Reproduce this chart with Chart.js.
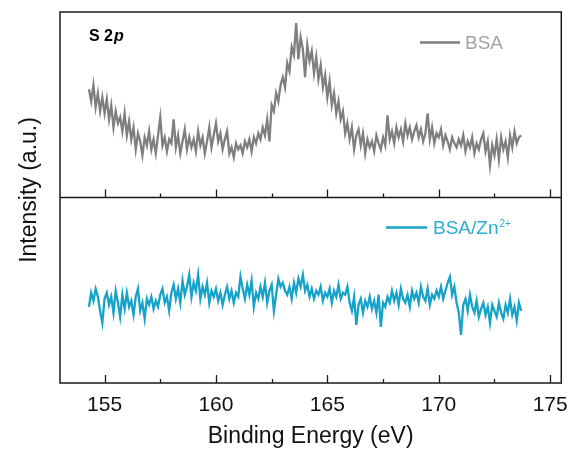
<!DOCTYPE html>
<html>
<head>
<meta charset="utf-8">
<script src="https://cdn.jsdelivr.net/npm/chart.js@4.4.1/dist/chart.umd.min.js"></script>
<style>
    html, body { margin: 0; padding: 0; background: #fff; }
</style>
</head>
<body>
<canvas id="xpsChart" width="578" height="452"></canvas>
<script>
// Datos (S 2p, intensidad en unidades arbitrarias)
const energiaInicio = 154.3;
const energiaPaso = 0.1;
const ticksX = [155, 160, 165, 170, 175];
const ticksMenores = [157.5, 162.5, 167.5, 172.5];

const intensidadBSA = [
    108, 96, 112, 90, 104, 86, 100,
    84, 98, 78, 92, 70, 86, 74, 80, 66, 84,
    62, 76, 58, 70, 48, 64, 56, 42, 60, 52,
    66, 48, 58, 44, 62, 80, 52, 60, 46, 58,
    54, 78, 50, 62, 44, 56, 68, 48, 60, 50,
    58, 46, 66, 52, 60, 44, 56, 70, 50, 62,
    74, 56, 64, 48, 58, 66, 44, 50, 40, 54,
    48, 52, 44, 56, 50, 58, 46, 60, 54, 64,
    58, 70, 62, 78, 56, 92, 86, 104, 96, 112,
    120, 110, 134, 126, 150, 142, 174, 138, 160, 148,
    120, 152, 136, 146, 124, 140, 118, 132, 110, 122,
    100, 116, 92, 104, 84, 96, 78, 86, 64, 74,
    58, 70, 48, 62, 68, 52, 64, 44, 58, 50,
    56, 46, 62, 54, 48, 60, 52, 82, 58, 66,
    54, 70, 60, 68, 56, 74, 62, 70, 58, 66,
    72, 60, 68, 56, 64, 84, 58, 70, 54, 64,
    60, 68, 52, 62, 56, 48, 60, 54, 50, 58,
    52, 62, 46, 56, 50, 60, 44, 54, 48, 58,
    64, 46, 56, 32, 52, 42, 58, 38, 60, 48,
    56, 40, 62, 50, 66, 54, 60, 62
];

const intensidadBSAZn = [
    76, 90, 82, 94, 86, 72, 60,
    84, 90, 78, 86, 70, 92, 80, 66, 88, 74,
    90, 76, 82, 68, 86, 94, 72, 80, 64, 84,
    78, 86, 74, 82, 76, 88, 94, 80, 86, 72,
    90, 98, 84, 94, 80, 102, 88, 96, 108, 86,
    100, 92, 108, 84, 96, 88, 100, 80, 92, 86,
    94, 82, 90, 78, 88, 96, 84, 92, 80, 90,
    86, 106, 94, 84, 98, 88, 102, 76, 90, 84,
    96, 86, 100, 80, 92, 98, 72, 88, 104, 96,
    100, 92, 88, 96, 84, 100, 90, 104, 96, 108,
    92, 98, 86, 94, 84, 92, 88, 96, 82, 90,
    86, 94, 80, 92, 86, 98, 84, 90, 88, 96,
    80, 72, 86, 58, 78, 84, 70, 82, 76, 86,
    74, 82, 70, 88, 56, 80, 76, 86, 80, 92,
    82, 90, 78, 94, 84, 80, 88, 76, 92, 84,
    90, 80, 96, 86, 82, 94, 78, 88, 84, 92,
    86, 96, 84, 92, 100, 106, 88, 96, 80, 70,
    48, 78, 84, 72, 88, 76, 70, 82, 66, 74,
    80, 68, 76, 60, 78, 72, 66, 80, 70, 64,
    78, 70, 84, 68, 76, 62, 80, 72
];

const colorBSA = '#7f7f7f';
const colorZn = '#16a3c9';
const fuente = '"Liberation Sans", Arial, sans-serif';

const aPuntos = (valores) => valores.map((v, i) => ({ x: +(energiaInicio + i * energiaPaso).toFixed(2), y: v }));

// Marco, ticks hacia dentro y textos de cada panel
const marcoPlugin = {
    id: 'marco',
    afterDatasetsDraw(chart) {
        const { ctx, chartArea, scales } = chart;
        const ejeX = scales.x;
        const arriba = scales.yBSA;
        const abajo = scales.yZn;
        const izq = chartArea.left;

        ctx.save();
        ctx.strokeStyle = '#1a1a1a';
        ctx.lineWidth = 1.5;
        ctx.strokeRect(chartArea.left, chartArea.top, chartArea.width, chartArea.height);
        ctx.beginPath();
        ctx.moveTo(chartArea.left, arriba.bottom);
        ctx.lineTo(chartArea.right, arriba.bottom);
        ctx.stroke();

        ctx.lineWidth = 1.3;
        [arriba.bottom, abajo.bottom].forEach(base => {
            ticksX.forEach(v => {
                const px = Math.round(ejeX.getPixelForValue(v)) + 0.5;
                ctx.beginPath(); ctx.moveTo(px, base); ctx.lineTo(px, base - 8); ctx.stroke();
            });
            ticksMenores.forEach(v => {
                const px = Math.round(ejeX.getPixelForValue(v)) + 0.5;
                ctx.beginPath(); ctx.moveTo(px, base); ctx.lineTo(px, base - 4); ctx.stroke();
            });
        });

        // S 2p
        ctx.fillStyle = '#000';
        ctx.textBaseline = 'alphabetic';
        ctx.font = 'bold 16px ' + fuente;
        ctx.fillText('S 2', izq + 29, arriba.top + 29);
        const anchoS = ctx.measureText('S 2').width;
        ctx.font = 'italic bold 16px ' + fuente;
        ctx.fillText('p', izq + 29 + anchoS + 1, arriba.top + 29);

        // leyenda BSA
        ctx.strokeStyle = colorBSA;
        ctx.lineWidth = 2.5;
        ctx.beginPath(); ctx.moveTo(izq + 360, arriba.top + 30.5); ctx.lineTo(izq + 400, arriba.top + 30.5); ctx.stroke();
        ctx.fillStyle = '#a3a3a3';
        ctx.font = '19px ' + fuente;
        ctx.fillText('BSA', izq + 405, arriba.top + 37);

        // leyenda BSA/Zn2+
        const yLey = abajo.top + 30;
        ctx.strokeStyle = colorZn;
        ctx.beginPath(); ctx.moveTo(izq + 326, yLey); ctx.lineTo(izq + 367, yLey); ctx.stroke();
        ctx.fillStyle = '#2eabd0';
        ctx.font = '19px ' + fuente;
        ctx.fillText('BSA/Zn', izq + 373, yLey + 6.5);
        const anchoZn = ctx.measureText('BSA/Zn').width;
        ctx.font = '10px ' + fuente;
        ctx.fillText('2+', izq + 373 + anchoZn + 1, yLey - 0.5);

        // titulo eje Y comun a los dos paneles
        ctx.translate(30, 190);
        ctx.rotate(-Math.PI / 2);
        ctx.fillStyle = '#111';
        ctx.font = '23px ' + fuente;
        ctx.textAlign = 'center';
        ctx.textBaseline = 'middle';
        ctx.fillText('Intensity (a.u.)', 0, 0);
        ctx.restore();
    }
};

const ctx = document.getElementById('xpsChart').getContext('2d');

new Chart(ctx, {
    type: 'line',
    data: {
        datasets: [
            {
                label: 'BSA',
                data: aPuntos(intensidadBSA),
                borderColor: colorBSA,
                borderWidth: 2.3,
                pointRadius: 0,
                tension: 0,
                yAxisID: 'yBSA'
            },
            {
                label: 'BSA/Zn2+',
                data: aPuntos(intensidadBSAZn),
                borderColor: colorZn,
                borderWidth: 2.3,
                pointRadius: 0,
                tension: 0,
                yAxisID: 'yZn'
            }
        ]
    },
    options: {
        responsive: false,
        animation: false,
        layout: {
            padding: { left: 60, right: 15, top: 12, bottom: 0 }
        },
        plugins: {
            legend: { display: false },
            tooltip: { enabled: false }
        },
        scales: {
            x: {
                type: 'linear',
                min: 153,
                max: 175.5,
                grid: { display: false, drawTicks: false },
                border: { display: false },
                afterBuildTicks: (eje) => { eje.ticks = ticksX.map(v => ({ value: v })); },
                afterFit: (eje) => { eje.height = 69; },
                ticks: {
                    autoSkip: false,
                    maxRotation: 0,
                    padding: 10,
                    color: '#111',
                    font: { family: fuente, size: 21 }
                },
                title: {
                    display: true,
                    text: 'Binding Energy (eV)',
                    color: '#111',
                    font: { family: fuente, size: 23 },
                    padding: { top: 0, bottom: 2 }
                }
            },
            // el ultimo eje de la pila queda arriba
            yZn: {
                type: 'linear',
                display: false,
                stack: 'paneles',
                stackWeight: 1,
                min: 0,
                max: 185
            },
            yBSA: {
                type: 'linear',
                display: false,
                stack: 'paneles',
                stackWeight: 1,
                min: 0,
                max: 185
            }
        }
    },
    plugins: [marcoPlugin]
});
</script>
</body>
</html>
